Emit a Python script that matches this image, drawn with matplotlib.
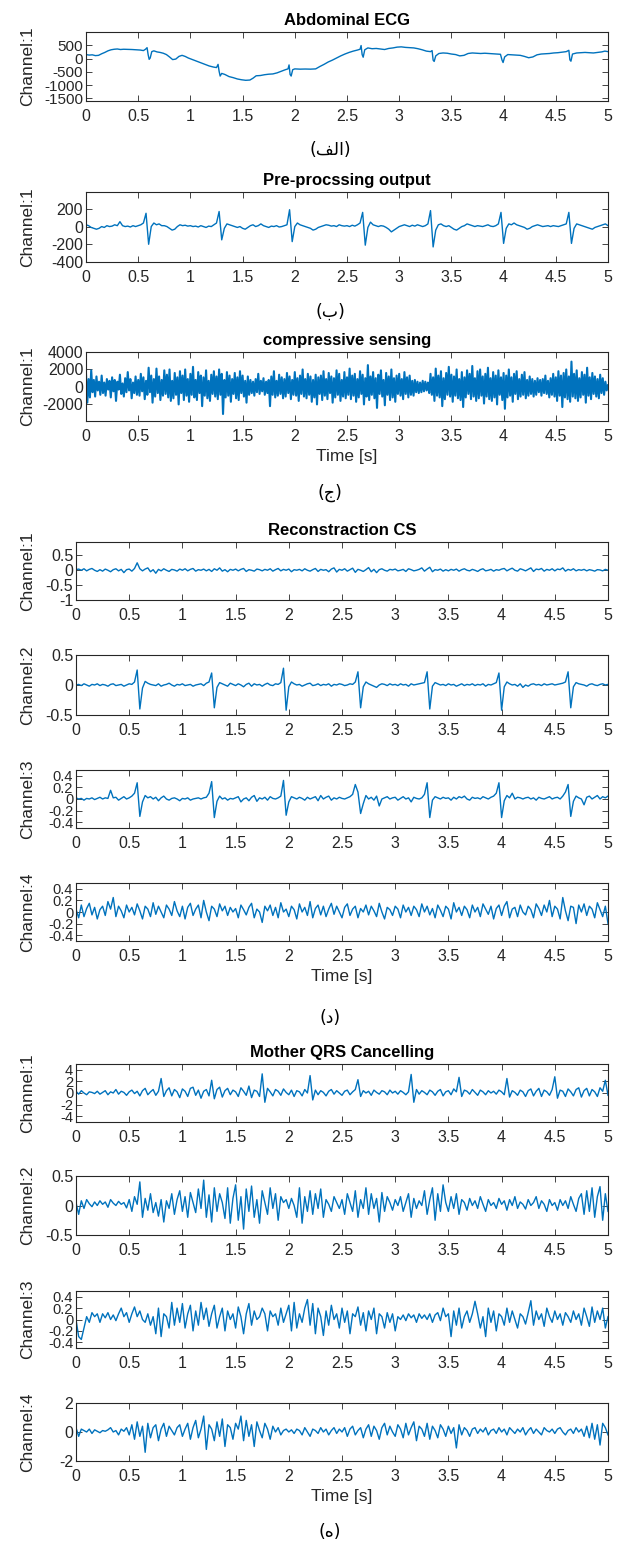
import numpy as np
import matplotlib
matplotlib.use("Agg")
import matplotlib.pyplot as plt

plt.rcParams['font.family'] = ['Liberation Sans', 'DejaVu Sans']

# (a) Abdominal ECG, irregular time samples
abd_t = [0.00, 0.03, 0.06, 0.09, 0.12, 0.15, 0.18, 0.21, 0.24, 0.27, 0.30, 0.33, 0.36, 0.40, 0.44,
         0.48, 0.52, 0.55, 0.57, 0.585, 0.595, 0.605, 0.615, 0.63, 0.65, 0.68, 0.71, 0.74, 0.77, 0.80,
         0.83, 0.86, 0.89, 0.92, 0.95, 0.98, 1.02, 1.06, 1.10, 1.14, 1.18, 1.22, 1.25, 1.265, 1.275,
         1.285, 1.30, 1.33, 1.37, 1.41, 1.45, 1.49, 1.53, 1.57, 1.60, 1.63, 1.67, 1.71, 1.75, 1.79,
         1.83, 1.87, 1.91, 1.935, 1.945, 1.955, 1.965, 1.98, 2.00, 2.05, 2.10, 2.15, 2.20, 2.24, 2.28,
         2.32, 2.36, 2.40, 2.44, 2.48, 2.52, 2.56, 2.60, 2.625, 2.635, 2.645, 2.655, 2.67, 2.70, 2.74,
         2.78, 2.82, 2.86, 2.90, 2.94, 2.98, 3.02, 3.06, 3.10, 3.14, 3.18, 3.22, 3.26, 3.30, 3.315,
         3.325, 3.335, 3.35, 3.38, 3.42, 3.46, 3.50, 3.54, 3.58, 3.62, 3.66, 3.70, 3.74, 3.78, 3.82,
         3.86, 3.90, 3.94, 3.97, 3.985, 3.995, 4.01, 4.04, 4.08, 4.12, 4.16, 4.20, 4.24, 4.28, 4.32,
         4.36, 4.40, 4.44, 4.48, 4.52, 4.56, 4.60, 4.625, 4.635, 4.645, 4.66, 4.70, 4.74, 4.78, 4.82,
         4.86, 4.90, 4.94, 4.97, 5.00]
abd_v = [150, 130, 140, 110, 120, 180, 230, 290, 330, 350, 360, 340, 350, 345, 340,
         330, 320, 300, 350, 410, 150, -30, 20, 260, 290, 250, 230, 200, 150, 60,
         -40, -20, 80, 120, 80, 20, -40, -100, -160, -220, -280, -320, -340, -220, -480,
         -660, -560, -600, -680, -720, -770, -800, -820, -810, -740, -650, -640, -610, -590, -580,
         -540, -480, -420, -390, -240, -600, -660, -420, -390, -400, -395, -400, -390, -300, -220,
         -130, -60, 20, 100, 170, 230, 280, 320, 350, 490, 150, 50, 330, 400, 370,
         380, 360, 340, 380, 400, 430, 440, 420, 410, 400, 370, 330, 280, 260, 300,
         -60, -110, 100, 190, 210, 200, 170, 150, 100, 120, 190, 210, 200, 190, 200,
         190, 180, 170, 160, -60, -150, 60, 150, 140, 130, 120, 80, 30, 60, 140,
         170, 180, 190, 210, 220, 240, 260, 310, -50, -100, 170, 210, 220, 230, 220,
         210, 230, 250, 280, 260]

# (b) pre-processing output, 0.025 s step
pre_v = [20, 10, -10, -20, -30, -20, 0, -10, 10, 0,
         5, 20, 10, 55, 10, 0, 5, -5, 10, 0,
         10, 20, 40, 150, -200, 0, 40, 20, 30, 10,
         10, 0, -20, -40, -30, 0, 20, 10, 15, 5,
         10, 0, 5, -5, 10, 0, -10, 5, 0, 20,
         40, 170, -150, -20, 30, 20, 10, 0, -10, 0,
         -20, -30, -10, 10, 20, 0, 10, 30, 10, 0,
         -10, 5, 0, 10, -5, 0, 10, 20, 190, -170,
         0, 40, 20, 10, 0, -10, -20, -40, -30, -10,
         0, 10, 20, 15, 5, 10, 0, 20, 10, 5,
         10, 0, 15, 5, 20, 40, 160, -210, -10, 50,
         20, 10, 0, 10, 5, -10, -30, -60, -40, -20,
         0, 10, 20, 10, 0, 15, 5, 20, 10, 0,
         10, 30, 180, -230, -40, 20, 30, 10, 0, 10,
         -10, -30, -40, -20, 0, 10, 30, 20, 10, 0,
         10, 5, 0, 10, 20, 5, 0, 10, 30, 160,
         -190, -20, 30, 20, 40, 20, 10, 0, -10, -30,
         -20, 0, 10, 20, 10, 0, 5, 10, 0, 10,
         5, 0, 10, 20, 30, 160, -190, -20, 30, 20,
         10, 0, -10, -20, -30, -10, 0, 10, 20, 30,
         10]

# (c) compressive sensing, 0.0125 s step
cs_v = [1500, -1800, 900, -1200, 1900, -600, 800, -1100, 1200, -400, 600, -900, 1300, -700, 500, -1000, 900, -300, 700, -1200,
        1100, -500, 800, -1600, 600, -300, 1400, -800, 400, -1100, 1000, -600, 1700, -400, 900, -1300, 500, -700, 1200, -900,
        800, -1000, 1500, -500, 1100, -1400, 700, -900, 2200, -600, 1300, -1800, 900, -1100, 2100, -700, 1200, -1500, 800, -1000,
        1900, -800, 1400, -1200, 2000, -1600, 700, -1300, 1600, -900, 1100, -2000, 1800, -700, 1300, -1500, 2000, -1000, 900, -1700,
        1500, -900, 2300, -1200, 800, -1500, 1700, -700, 1300, -2200, 1100, -1000, 1900, -1300, 700, -1600, 1400, -800, 1800, -1100,
        1200, -1400, 2000, -900, 1500, -3100, 800, -1200, 1700, -1000, 1300, -1700, 900, -800, 1600, -1300, 1100, -1500, 1800, -700,
        1300, -1100, 700, -1800, 1200, -900, 800, -700, 600, -1000, 900, -600, 1500, -800, 700, -500, 1000, -900, 600, -700,
        800, -2200, 1200, -900, 1800, -1200, 700, -1000, 1400, -800, 1100, -1300, 900, -1100, 1600, -700, 1200, -1400, 800, -900,
        1700, -1000, 1000, -1600, 1300, -800, 2000, -1100, 900, -1300, 1500, -900, 1200, -1700, 800, -1200, 1400, -2000, 1100, -800,
        1300, -1500, 1800, -1000, 900, -1400, 1600, -700, 1200, -1800, 1000, -1200, 1900, -900, 1500, -1600, 800, -1100, 1700, -1300,
        1100, -900, 2100, -1400, 1300, -1000, 1500, -1700, 900, -1200, 1800, -800, 1400, -2000, 1000, -1100, 2500, -1500, 1200, -900,
        1700, -1300, 1000, -2400, 1400, -800, 1900, -1100, 800, -2100, 1600, -900, 1200, -1500, 2000, -1200, 1000, -1700, 1300, -800,
        1500, -1000, 900, -1400, 1700, -800, 1100, -1200, 1300, -900, 700, -1000, 800, -600, 600, -700, 500, -600, 700, -500,
        600, -400, 500, -700, 1500, -900, 1100, -1600, 2100, -1000, 1300, -1200, 1800, -2200, 1000, -1400, 1600, -900, 2300, -1100,
        1400, -1700, 1200, -1000, 2000, -1300, 900, -1500, 1700, -2300, 1100, -1200, 1900, -800, 1500, -1400, 2400, -1100, 1000, -1600,
        1800, -1300, 2000, -1000, 1200, -1900, 1500, -1100, 2200, -1400, 1000, -1600, 1700, -1200, 1300, -2000, 1900, -900, 1100, -1500,
        1600, -2500, 1300, -1200, 2000, -1000, 1100, -1700, 1500, -800, 1800, -1400, 900, -1100, 1400, -900, 1700, -1300, 800, -1000,
        1200, -800, 900, -1100, 700, -900, 1000, -600, 800, -1000, 900, -700, 1300, -800, 700, -1200, 1000, -900, 1500, -1100,
        1100, -1600, 1800, -1000, 1300, -2300, 1600, -1200, 2000, -1400, 1200, -1700, 2900, -1100, 1500, -1300, 1900, -1600, 1000, -1200,
        1700, -900, 1400, -1800, 2200, -1000, 1100, -1400, 1600, -800, 1200, -1100, 900, -1300, 1400, -700, 1000, -900, 600, -400,
        200]

# (d) reconstruction CS, channels 1-4, 0.025 s step
rec1_v = [0.02, 0.04, 0.0, 0.05, -0.02, 0.03, 0.06, 0.0, -0.04, 0.02,
          -0.03, 0.04, 0.0, -0.05, 0.02, 0.05, -0.02, 0.03, -0.08, 0.02,
          0.04, -0.03, 0.06, 0.25, 0.05, -0.02, 0.04, 0.08, -0.05, 0.02,
          -0.1, 0.03, -0.02, 0.05, 0.0, -0.04, 0.03, 0.01, -0.03, 0.04,
          0.0, 0.05, -0.02, 0.03, 0.06, -0.03, 0.02, 0.0, 0.04, -0.02,
          0.03, -0.04, 0.05, 0.0, 0.08, -0.03, 0.02, -0.05, 0.03, 0.0,
          0.04, -0.02, 0.03, 0.06, -0.04, 0.02, 0.0, -0.03, 0.04, 0.02,
          -0.02, 0.03, 0.0, 0.05, -0.03, 0.02, 0.06, -0.02, 0.03, 0.0,
          0.04, -0.05, 0.02, 0.0, 0.03, -0.02, 0.05, 0.0, -0.03, 0.02,
          0.06, -0.04, 0.03, 0.0, 0.02, -0.05, 0.04, 0.08, -0.06, 0.03,
          0.0, 0.05, -0.03, 0.02, 0.07, -0.07, 0.03, 0.0, -0.04, 0.02,
          0.09, -0.05, 0.03, -0.08, 0.02, 0.05, 0.0, -0.03, 0.03, 0.01,
          0.04, -0.02, 0.0, 0.03, -0.04, 0.05, 0.02, -0.02, 0.0, 0.03,
          0.08, -0.03, 0.04, 0.1, -0.05, 0.02, 0.0, 0.04, -0.03, 0.02,
          -0.02, 0.03, 0.0, 0.04, -0.03, 0.02, 0.05, 0.0, -0.02, 0.03,
          0.0, -0.04, 0.02, 0.05, -0.02, 0.0, 0.03, -0.03, 0.02, 0.0,
          0.04, 0.06, -0.02, 0.03, 0.07, 0.0, -0.03, 0.05, 0.02, -0.02,
          0.03, 0.08, -0.04, 0.04, 0.02, 0.06, -0.03, 0.03, 0.0, 0.05,
          -0.02, 0.04, 0.02, 0.08, -0.03, 0.03, 0.0, 0.05, -0.02, 0.02,
          0.0, 0.03, -0.02, 0.02, 0.0, -0.03, 0.02, 0.01, -0.02, 0.03,
          0.0]
rec2_v = [0.0, 0.01, -0.01, 0.02, 0.0, -0.02, 0.01, 0.0, 0.02, -0.01,
          0.01, 0.0, -0.02, 0.01, 0.02, -0.01, 0.0, 0.01, -0.02, 0.0,
          0.02, 0.01, 0.05, 0.25, -0.4, -0.05, 0.06, 0.03, 0.01, 0.0,
          -0.01, 0.02, -0.02, 0.0, 0.01, 0.03, 0.0, -0.02, 0.01, 0.0,
          0.02, -0.01, 0.0, 0.01, -0.02, 0.0, 0.01, 0.02, -0.01, 0.03,
          0.05, 0.2, -0.38, -0.04, 0.04, 0.02, 0.0, -0.02, 0.03, 0.01,
          -0.01, 0.02, 0.0, -0.03, 0.01, 0.03, -0.02, 0.02, 0.0, 0.01,
          -0.02, 0.01, 0.03, 0.0, -0.01, 0.02, 0.01, 0.04, 0.28, -0.42,
          -0.03, 0.05, 0.02, 0.0, 0.01, -0.02, 0.0, 0.02, 0.03, -0.01,
          0.0, 0.02, -0.01, 0.01, 0.0, 0.02, -0.02, 0.01, 0.0, 0.02,
          0.01, -0.01, 0.0, 0.02, 0.01, 0.05, 0.22, -0.38, -0.03, 0.05,
          0.02, 0.0, -0.02, -0.04, 0.0, 0.02, 0.01, -0.01, 0.02, 0.0,
          0.01, -0.01, 0.02, 0.0, 0.01, -0.02, 0.02, 0.0, 0.01, 0.02,
          0.03, 0.04, 0.22, -0.4, -0.02, 0.04, 0.02, 0.0, 0.01, -0.01,
          0.02, 0.0, 0.01, -0.02, 0.0, 0.02, -0.01, 0.01, 0.0, 0.02,
          -0.01, 0.01, 0.0, 0.02, -0.02, 0.01, 0.0, 0.02, 0.04, 0.2,
          -0.42, -0.03, 0.05, 0.02, 0.0, 0.01, -0.02, 0.02, -0.04, 0.0,
          -0.02, 0.01, 0.02, 0.0, 0.01, -0.01, 0.02, 0.0, 0.01, 0.02,
          0.0, 0.01, 0.02, 0.03, 0.05, 0.22, -0.38, -0.03, 0.04, 0.02,
          0.01, 0.0, -0.02, 0.01, 0.02, 0.0, -0.01, 0.01, 0.02, 0.0,
          0.01]
rec3_v = [0.02, 0.0, 0.01, -0.02, 0.01, 0.0, 0.02, -0.01, 0.01, 0.03,
          0.0, 0.02, 0.01, 0.15, 0.02, 0.03, -0.02, 0.01, 0.04, 0.0,
          0.02, 0.05, 0.1, 0.28, -0.3, -0.05, 0.06, 0.02, 0.04, 0.0,
          0.03, -0.03, 0.02, 0.05, 0.0, -0.02, 0.01, 0.02, 0.0, -0.03,
          0.01, 0.0, 0.02, -0.02, 0.0, 0.01, 0.02, 0.0, 0.02, 0.03,
          0.1, 0.3, -0.32, -0.04, 0.05, 0.0, 0.02, -0.02, 0.01, 0.0,
          0.02, 0.04, -0.05, 0.0, 0.02, -0.03, 0.03, 0.06, -0.04, 0.02,
          0.0, 0.03, -0.02, 0.04, 0.01, 0.0, 0.02, 0.05, 0.32, -0.28,
          -0.05, 0.04, 0.02, 0.0, 0.03, 0.01, -0.02, 0.03, 0.0, 0.02,
          0.04, -0.03, 0.06, 0.0, 0.03, 0.05, -0.02, 0.02, 0.0, 0.03,
          0.01, 0.0, 0.02, 0.04, 0.08, 0.25, 0.12, -0.25, -0.08, 0.06,
          0.0, 0.03, -0.02, 0.05, -0.12, 0.0, 0.02, 0.04, 0.0, 0.02,
          0.03, -0.02, 0.01, 0.04, 0.0, 0.02, -0.05, 0.03, 0.01, 0.0,
          0.02, 0.08, 0.28, -0.32, -0.02, 0.04, 0.02, 0.0, 0.03, 0.01,
          0.02, -0.02, 0.03, 0.0, 0.04, 0.02, 0.05, 0.0, -0.02, 0.03,
          0.01, 0.02, 0.0, 0.04, 0.02, 0.0, 0.03, 0.05, 0.1, 0.28,
          -0.32, -0.03, 0.06, 0.02, 0.1, 0.0, 0.03, 0.02, 0.0, 0.02,
          0.03, 0.0, 0.02, -0.02, 0.03, 0.01, 0.0, 0.02, 0.04, 0.0,
          0.02, 0.03, 0.0, 0.05, 0.12, 0.25, -0.3, -0.04, 0.05, 0.02,
          0.0, -0.1, 0.03, 0.05, 0.0, 0.03, 0.06, 0.0, 0.04, 0.02,
          0.05]
rec4_v = [0.05, -0.1, 0.12, -0.08, 0.06, 0.15, -0.05, 0.08, -0.12, 0.04,
          0.1, -0.06, 0.18, 0.05, 0.25, -0.08, 0.1, 0.02, -0.1, 0.12,
          0.0, 0.08, -0.05, 0.14, 0.02, -0.12, 0.1, 0.05, -0.08, 0.16,
          -0.04, 0.1, 0.0, -0.1, 0.12, 0.05, -0.06, 0.18, 0.02, -0.08,
          0.1, -0.12, 0.08, 0.15, -0.06, 0.05, 0.12, -0.1, 0.2, 0.0,
          -0.15, 0.1, 0.05, -0.08, 0.14, 0.02, 0.1, -0.06, 0.08, 0.0,
          0.06, -0.1, 0.12, 0.04, -0.05, 0.08, 0.15, -0.1, 0.05, 0.0,
          -0.18, 0.1, 0.02, 0.12, -0.06, 0.08, -0.1, 0.16, 0.0, 0.05,
          -0.08, 0.1, 0.04, -0.12, 0.14, 0.0, 0.08, -0.06, 0.18, -0.1,
          0.06, 0.12, -0.05, 0.1, -0.08, 0.05, 0.15, -0.04, 0.1, 0.0,
          -0.1, 0.08, 0.14, -0.06, 0.05, 0.1, -0.1, 0.06, 0.0, 0.12,
          -0.05, 0.1, 0.02, -0.08, 0.15, 0.0, -0.12, 0.08, 0.04, -0.06,
          0.1, 0.05, -0.1, 0.12, 0.0, 0.08, -0.06, 0.1, 0.04, -0.08,
          0.14, 0.0, 0.1, -0.05, 0.06, -0.1, 0.12, 0.03, -0.08, 0.1,
          0.05, -0.12, 0.16, 0.0, 0.08, -0.06, 0.1, 0.04, -0.1, 0.12,
          0.0, 0.08, -0.08, 0.14, 0.05, -0.04, 0.1, -0.12, 0.06, 0.12,
          -0.06, 0.1, 0.18, -0.1, 0.05, 0.08, -0.08, 0.12, 0.0, -0.05,
          0.1, 0.04, -0.1, 0.14, 0.06, -0.06, 0.12, 0.0, 0.2, -0.08,
          0.1, 0.05, -0.12, 0.25, 0.02, -0.15, 0.1, 0.08, -0.2, 0.12,
          0.0, 0.14, -0.06, 0.1, 0.05, -0.1, 0.16, 0.04, -0.08, 0.1,
          -0.2]

# (e) mother QRS cancelling, channels 1-4, 0.025 s step
mqc1_v = [0.3, -0.2, 0.4, 0.0, -0.3, 0.2, 0.1, -0.1, 0.3, -0.2,
          0.1, 0.4, -0.3, 0.2, 0.0, 0.6, -0.2, 0.3, 0.1, -0.4,
          0.2, 0.5, -0.1, 0.3, -0.5, 0.4, 0.8, -0.3, 0.2, 0.6,
          -0.4, 0.3, 2.5, -0.6, 0.4, 0.9, -0.5, 0.6, 0.2, -0.8,
          0.7, 0.3, -0.6, 0.8, 1.0, -0.4, 0.5, -0.9, 0.3, 0.6,
          -0.5, 2.2, -1.0, 0.6, 1.0, -0.7, 0.4, 0.8, -0.3, 0.5,
          0.2, -0.6, 0.9, 0.3, -0.4, 1.2, -0.8, 0.5, 0.3, -0.6,
          3.3, -1.6, 0.8, 0.2, -0.5, 0.6, 0.3, -0.4, 0.7, 0.1,
          -0.3, 0.5, -0.6, 0.4, 0.2, -0.5, 0.6, 0.0, 3.0, -1.2,
          0.5, -0.3, 0.4, 0.1, -0.5, 0.3, 0.6, -0.2, 0.4, 0.0,
          -0.4, 0.3, 0.5, -0.3, 0.2, 0.6, 2.3, -0.6, 0.4, 0.0,
          0.3, -0.4, 0.5, 0.1, -0.2, 0.4, 0.2, -0.3, 0.5, 0.0,
          0.3, -0.2, 0.4, 0.1, -0.3, 0.2, 3.2, -1.6, 0.6, -0.2,
          0.4, 0.1, -0.3, 0.5, 0.2, -0.4, 0.3, 0.6, -0.5, 0.2,
          0.4, -0.3, 0.7, 0.2, 2.7, -0.6, 0.5, 0.3, -0.2, 0.6,
          0.1, -0.4, 0.5, 0.2, -0.3, 0.4, 0.0, 0.3, -0.2, 0.5,
          0.2, -0.3, 2.5, -0.7, 0.4, 0.1, -0.4, 0.5, 0.2, -0.6,
          0.4, 0.7, -0.5, 0.3, 0.8, -0.6, 0.5, 0.2, -0.4, 0.6,
          2.8, -0.9, 0.5, 0.3, -0.6, 0.7, 0.2, -0.5, 0.6, 0.9,
          -0.7, 0.4, 0.8, -0.5, 0.6, 0.2, -0.6, 0.9, 0.3, 2.2,
          -0.4]
mqc2_v = [0.05, -0.15, 0.08, -0.05, 0.1, 0.03, -0.02, 0.06, 0.0, 0.08,
          0.02, 0.06, -0.03, 0.1, 0.04, 0.0, 0.07, 0.02, 0.05, -0.04,
          0.1, -0.1, 0.15, 0.02, 0.4, -0.2, 0.12, -0.08, 0.2, -0.12,
          0.05, -0.18, 0.1, -0.28, 0.08, -0.05, 0.2, -0.15, 0.1, 0.25,
          -0.1, 0.15, -0.2, 0.22, 0.05, -0.12, 0.28, -0.05, 0.43, -0.2,
          0.18, -0.28, 0.3, -0.1, 0.2, 0.05, -0.22, 0.3, -0.3, 0.12,
          0.35, -0.25, 0.15, -0.4, 0.28, -0.1, 0.33, -0.2, 0.1, -0.3,
          0.25, 0.05, -0.15, 0.3, -0.05, 0.2, -0.25, 0.15, 0.05, 0.1,
          -0.05, 0.12, 0.0, -0.2, 0.3, -0.3, 0.15, -0.1, 0.25, -0.15,
          0.2, -0.05, 0.28, -0.2, 0.1, 0.02, -0.1, 0.15, 0.05, -0.05,
          0.1, -0.15, 0.2, 0.05, -0.1, 0.25, -0.2, 0.1, -0.05, 0.3,
          -0.15, 0.2, -0.05, 0.12, -0.28, 0.22, -0.1, 0.15, 0.05, -0.08,
          0.1, 0.0, 0.15, -0.1, 0.05, 0.2, -0.2, 0.12, -0.05, 0.08,
          0.0, 0.25, -0.15, 0.1, 0.3, -0.25, 0.2, -0.1, 0.35, 0.05,
          -0.1, 0.15, -0.05, 0.2, -0.15, 0.1, 0.05, -0.08, 0.12, 0.0,
          0.08, -0.05, 0.15, 0.02, -0.1, 0.1, 0.0, 0.05, -0.05, 0.12,
          0.02, 0.08, -0.08, 0.1, 0.0, 0.15, -0.05, 0.06, 0.02, -0.06,
          0.1, 0.0, 0.05, 0.15, -0.05, 0.08, 0.02, -0.1, 0.1, 0.0,
          0.05, -0.08, 0.1, 0.0, 0.08, -0.05, 0.15, 0.02, -0.1, 0.12,
          0.2, -0.15, 0.25, -0.1, 0.3, -0.2, 0.15, 0.32, -0.25, 0.2,
          -0.1]
mqc3_v = [0.0, -0.3, -0.35, -0.15, 0.05, -0.05, 0.12, 0.05, 0.1, -0.05,
          0.1, 0.03, 0.12, 0.0, 0.08, -0.02, 0.1, 0.2, 0.05, 0.12,
          -0.05, 0.1, 0.22, 0.05, 0.15, 0.0, -0.05, 0.1, -0.1, 0.05,
          -0.25, 0.2, -0.3, 0.1, 0.05, -0.15, 0.3, -0.1, 0.2, -0.05,
          0.28, -0.15, 0.1, 0.25, -0.2, 0.15, -0.1, 0.3, 0.0, 0.2,
          -0.12, 0.1, 0.25, -0.15, 0.05, 0.2, -0.2, 0.15, 0.0, 0.1,
          -0.15, 0.22, 0.05, -0.25, 0.1, 0.28, -0.1, 0.15, 0.0, 0.05,
          0.2, 0.1, -0.2, 0.15, 0.05, 0.1, -0.1, 0.2, -0.05, 0.1,
          0.25, -0.2, 0.3, -0.15, 0.1, -0.05, 0.2, 0.35, -0.1, 0.28,
          -0.25, 0.2, 0.05, -0.28, 0.15, -0.1, 0.25, 0.0, 0.1, -0.15,
          0.2, -0.05, 0.15, -0.25, 0.1, 0.05, 0.22, -0.1, 0.12, -0.2,
          0.15, 0.0, 0.2, -0.25, 0.1, 0.05, -0.15, 0.12, -0.05, 0.1,
          -0.2, 0.05, 0.0, 0.08, -0.02, 0.1, 0.03, 0.08, -0.05, 0.1,
          0.02, 0.08, 0.0, 0.1, -0.05, 0.08, 0.12, -0.02, 0.2, 0.05,
          0.1, -0.3, 0.15, -0.1, 0.2, -0.15, 0.05, 0.15, -0.05, 0.1,
          0.32, 0.1, -0.15, 0.05, -0.3, 0.2, -0.05, 0.15, -0.2, 0.1,
          0.05, -0.1, 0.2, -0.05, 0.15, 0.0, -0.15, 0.1, 0.05, -0.08,
          0.12, 0.33, -0.1, 0.15, 0.0, 0.1, -0.12, 0.2, 0.05, -0.05,
          0.15, 0.0, 0.1, -0.1, 0.12, 0.05, -0.05, 0.15, 0.0, 0.1,
          -0.1, 0.2, 0.05, -0.12, 0.22, -0.05, 0.15, 0.0, 0.2, -0.15,
          0.05]
mqc4_v = [0.3, -0.3, 0.2, 0.1, 0.0, 0.2, -0.1, 0.15, 0.05, -0.05,
          0.1, 0.05, 0.15, 0.3, 0.0, 0.1, -0.2, 0.2, 0.05, 0.3,
          -0.2, 0.5, -0.5, 0.7, -0.3, 0.4, -1.4, 0.6, -0.4, 0.3,
          0.5, -0.6, 0.2, 0.6, -0.3, 0.4, 0.1, -0.2, 0.3, 0.5,
          -0.3, 0.2, 0.6, -0.5, 0.3, 0.8, -0.4, 0.2, 1.1, -1.2,
          0.5, 0.2, -0.6, 0.7, -0.3, 0.9, -1.0, 0.5, 0.3, -0.5,
          0.6, 0.2, 1.1, -0.6, 0.8, -0.3, 0.5, -1.0, 0.7, 0.1,
          -0.4, 0.6, 0.2, -0.5, 0.4, 0.0, 0.3, -0.2, 0.1, 0.2,
          0.0, 0.15, -0.1, 0.2, 0.1, -0.2, 0.3, 0.0, -0.3, 0.2,
          0.1, -0.1, 0.3, 0.0, 0.2, -0.2, 0.1, 0.3, -0.1, 0.2,
          0.0, 0.3, -0.3, 0.2, 0.4, -0.2, 0.1, 0.3, -0.4, 0.2,
          0.5, -0.3, 0.4, 0.1, -0.5, 0.3, 0.6, -0.2, 0.4, 0.0,
          -0.3, 0.5, 0.2, -0.4, 0.6, -0.2, 0.3, 0.7, -0.6, 0.4,
          0.2, -0.3, 0.6, -0.5, 0.4, 0.1, -0.4, 0.5, 0.2, -0.3,
          0.4, -0.1, 0.3, -1.1, 0.5, -0.2, 0.3, 0.1, -0.3, 0.2,
          0.3, -0.1, 0.2, 0.0, 0.3, -0.2, 0.1, 0.2, -0.1, 0.3,
          0.0, 0.2, -0.2, 0.3, 0.1, -0.1, 0.2, 0.0, 0.3, -0.2,
          0.1, 0.3, -0.1, 0.2, 0.0, -0.2, 0.3, 0.1, 0.0, 0.2,
          -0.1, 0.2, 0.3, 0.0, -0.2, 0.1, 0.2, -0.1, 0.3, 0.0,
          0.2, -0.3, 0.4, -0.4, 0.6, -0.5, 0.5, -0.9, 0.6, 0.3,
          -0.2]

xticks = [0, 0.5, 1, 1.5, 2, 2.5, 3, 3.5, 4, 4.5, 5]
line_color = '#0072BD'
ink = '#262626'

W, H = 622, 1549
fig = plt.figure(figsize=(W / 100, H / 100), dpi=100)


def panel(left, top, bottom, t, v, ylim, yticks, ylabel, title=None, xlabel=None, lw=1.0,
          ysize=11.5):
    ax = fig.add_axes([left / W, 1 - bottom / H, (608 - left) / W, (bottom - top) / H])
    ax.plot(t, v, color=line_color, lw=lw)
    ax.set_xlim(0, 5)
    ax.set_ylim(*ylim)
    ax.set_xticks(xticks)
    ax.set_xticklabels(['%g' % x for x in xticks])
    ax.set_yticks(yticks)
    ax.set_yticklabels(['%g' % y for y in yticks])
    ax.tick_params(direction='in', top=True, right=True, length=4, width=0.6,
                   colors=ink, labelsize=11.5, pad=6)
    ax.tick_params(axis='y', pad=2, labelsize=ysize)
    for s in ax.spines.values():
        s.set_color(ink)
        s.set_linewidth(0.8)
    ax.set_ylabel(ylabel, fontsize=12.5, color=ink)
    ax.yaxis.set_label_coords((35 - left) / (608 - left), 0.5)
    if title:
        ax.set_title(title, fontsize=12, fontweight='bold', color='black', pad=5)
    if xlabel:
        ax.set_xlabel(xlabel, fontsize=12.5, color=ink, labelpad=3)
    return ax


def grid_t(v):
    return np.linspace(0, 5, len(v))


panel(86, 32, 101, abd_t, abd_v, (-1600, 1000), [-1500, -1000, -500, 0, 500], 'Channel:1',
      title='Abdominal ECG', ysize=11)
panel(86, 192, 262, grid_t(pre_v), pre_v, (-400, 390), [-400, -200, 0, 200], 'Channel:1',
      title='Pre-procssing output')
panel(86, 352, 421, grid_t(cs_v), cs_v, (-3900, 4000), [-2000, 0, 2000, 4000], 'Channel:1',
      title='compressive sensing', xlabel='Time [s]', lw=1.5)

panel(76, 542, 600, grid_t(rec1_v), rec1_v, (-1, 0.95), [-1, -0.5, 0, 0.5], 'Channel:1',
      title='Reconstraction CS')
panel(76, 655, 715, grid_t(rec2_v), rec2_v, (-0.5, 0.5), [-0.5, 0, 0.5], 'Channel:2')
panel(76, 770, 828, grid_t(rec3_v), rec3_v, (-0.5, 0.5), [-0.4, -0.2, 0, 0.2, 0.4], 'Channel:3',
      ysize=10.5)
panel(76, 883, 941, grid_t(rec4_v), rec4_v, (-0.5, 0.5), [-0.4, -0.2, 0, 0.2, 0.4], 'Channel:4',
      xlabel='Time [s]', ysize=10.5)

panel(76, 1064, 1122, grid_t(mqc1_v), mqc1_v, (-5, 5), [-4, -2, 0, 2, 4], 'Channel:1',
      title='Mother QRS Cancelling', ysize=10.5)
panel(76, 1176, 1235, grid_t(mqc2_v), mqc2_v, (-0.5, 0.5), [-0.5, 0, 0.5], 'Channel:2')
panel(76, 1291, 1348, grid_t(mqc3_v), mqc3_v, (-0.5, 0.5), [-0.4, -0.2, 0, 0.2, 0.4], 'Channel:3',
      ysize=10.5)
panel(76, 1403, 1461, grid_t(mqc4_v), mqc4_v, (-2, 2), [-2, 0, 2], 'Channel:4',
      xlabel='Time [s]')

# Persian sub-figure letters (presentation forms, written in visual order)
sub_labels = ['(\uFED2\uFEDF\uFE8D)', '(\uFE8F)', '(\uFE9D)', '(\uFEA9)', '(\uFEE9)']
sub_y = [150, 312, 493, 1018, 1532]
for lab, y in zip(sub_labels, sub_y):
    fig.text(330 / W, 1 - y / H, lab, ha='center', va='center', fontsize=12.5,
             family='DejaVu Sans', color='black')

fig.savefig('out.png', dpi=100)
